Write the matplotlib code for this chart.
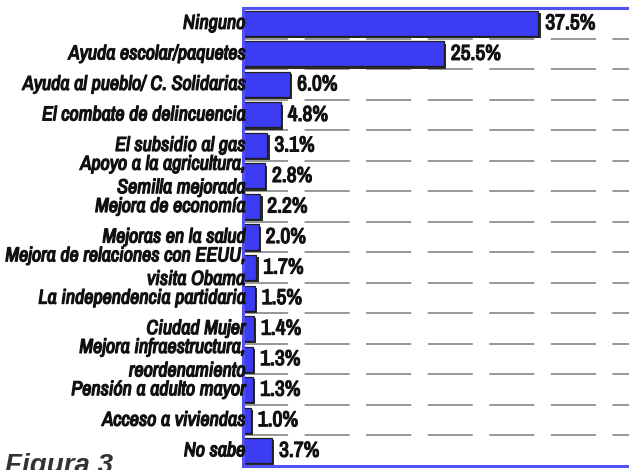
import numpy as np
import matplotlib
matplotlib.use("Agg")
import matplotlib.pyplot as plt
import matplotlib.patheffects as pe

# datos de la figura
categorias = [
    "Ninguno",
    "Ayuda escolar/paquetes",
    "Ayuda al pueblo/ C. Solidarias",
    "El combate de delincuencia",
    "El subsidio al gas",
    "Apoyo a la agricultura,\nSemilla mejorada",
    "Mejora de economía",
    "Mejoras en la salud",
    "Mejora de relaciones con EEUU,\nvisita Obama",
    "La independencia partidaria",
    "Ciudad Mujer",
    "Mejora infraestructura,\nreordenamiento",
    "Pensión a adulto mayor",
    "Acceso a viviendas",
    "No sabe",
]
porcentajes = [37.5, 25.5, 6.0, 4.8, 3.1, 2.8, 2.2, 2.0, 1.7, 1.5, 1.4, 1.3, 1.3, 1.0, 3.7]

azul_barra = "#3c3cf4"
azul_borde = "#5252f2"
fam = ["Archivo Narrow", "DejaVu Sans"]
negrita = [pe.withStroke(linewidth=0.9, foreground="#111111")]

fig = plt.figure(figsize=(6.29, 4.70), dpi=100)
ax = fig.add_axes([243 / 629, 4 / 470, 1 - 243 / 629, 458 / 470])

y = np.arange(len(categorias))
sombra = [pe.SimplePatchShadow(offset=(1.6, -1.6), shadow_rgbFace="#2b2b2b", alpha=1.0), pe.Normal()]
barras = ax.barh(y, porcentajes, height=0.82, color=azul_barra, edgecolor="#1e1e1e",
                 linewidth=0.9, zorder=2)
for b in barras:
    b.set_path_effects(sombra)

# lineas punteadas entre filas
for i in range(len(categorias) - 1):
    ax.axhline(i + 0.5, color="#7a7a7a", lw=1.1, linestyle=(0, (29.5, 10.8)), zorder=1)

# etiquetas de categoria
for yi, c in zip(y, categorias):
    ax.annotate(c, xy=(0, yi), xytext=(1.5, 0), textcoords="offset points",
                ha="right", va="center", multialignment="right",
                fontsize=14.5, fontstyle="italic", family=fam, color="#111111",
                zorder=5, linespacing=1.3, path_effects=negrita)

# valores
for yi, v in zip(y, porcentajes):
    ax.annotate(f"{v:.1f}%", xy=(v, yi), xytext=(5, 0), textcoords="offset points",
                ha="left", va="center", fontsize=15.5, family=fam, color="#111111",
                zorder=4, path_effects=negrita,
                bbox=dict(boxstyle="square,pad=0.05", fc="white", ec="none"))

ax.set_xlim(0, 49)
ax.set_ylim(len(categorias) - 0.5, -0.5)
ax.set_xticks([])
ax.set_yticks([])

for lado in ("left", "top", "bottom"):
    ax.spines[lado].set_color(azul_borde)
    ax.spines[lado].set_linewidth(2.2)
ax.spines["right"].set_visible(False)

fig.text(5 / 629, -3 / 470, "Figura 3", fontsize=20, fontweight="bold", fontstyle="italic",
         family=["Liberation Sans"], color="#333333", ha="left", va="baseline")

fig.savefig("out.png", dpi=100)
